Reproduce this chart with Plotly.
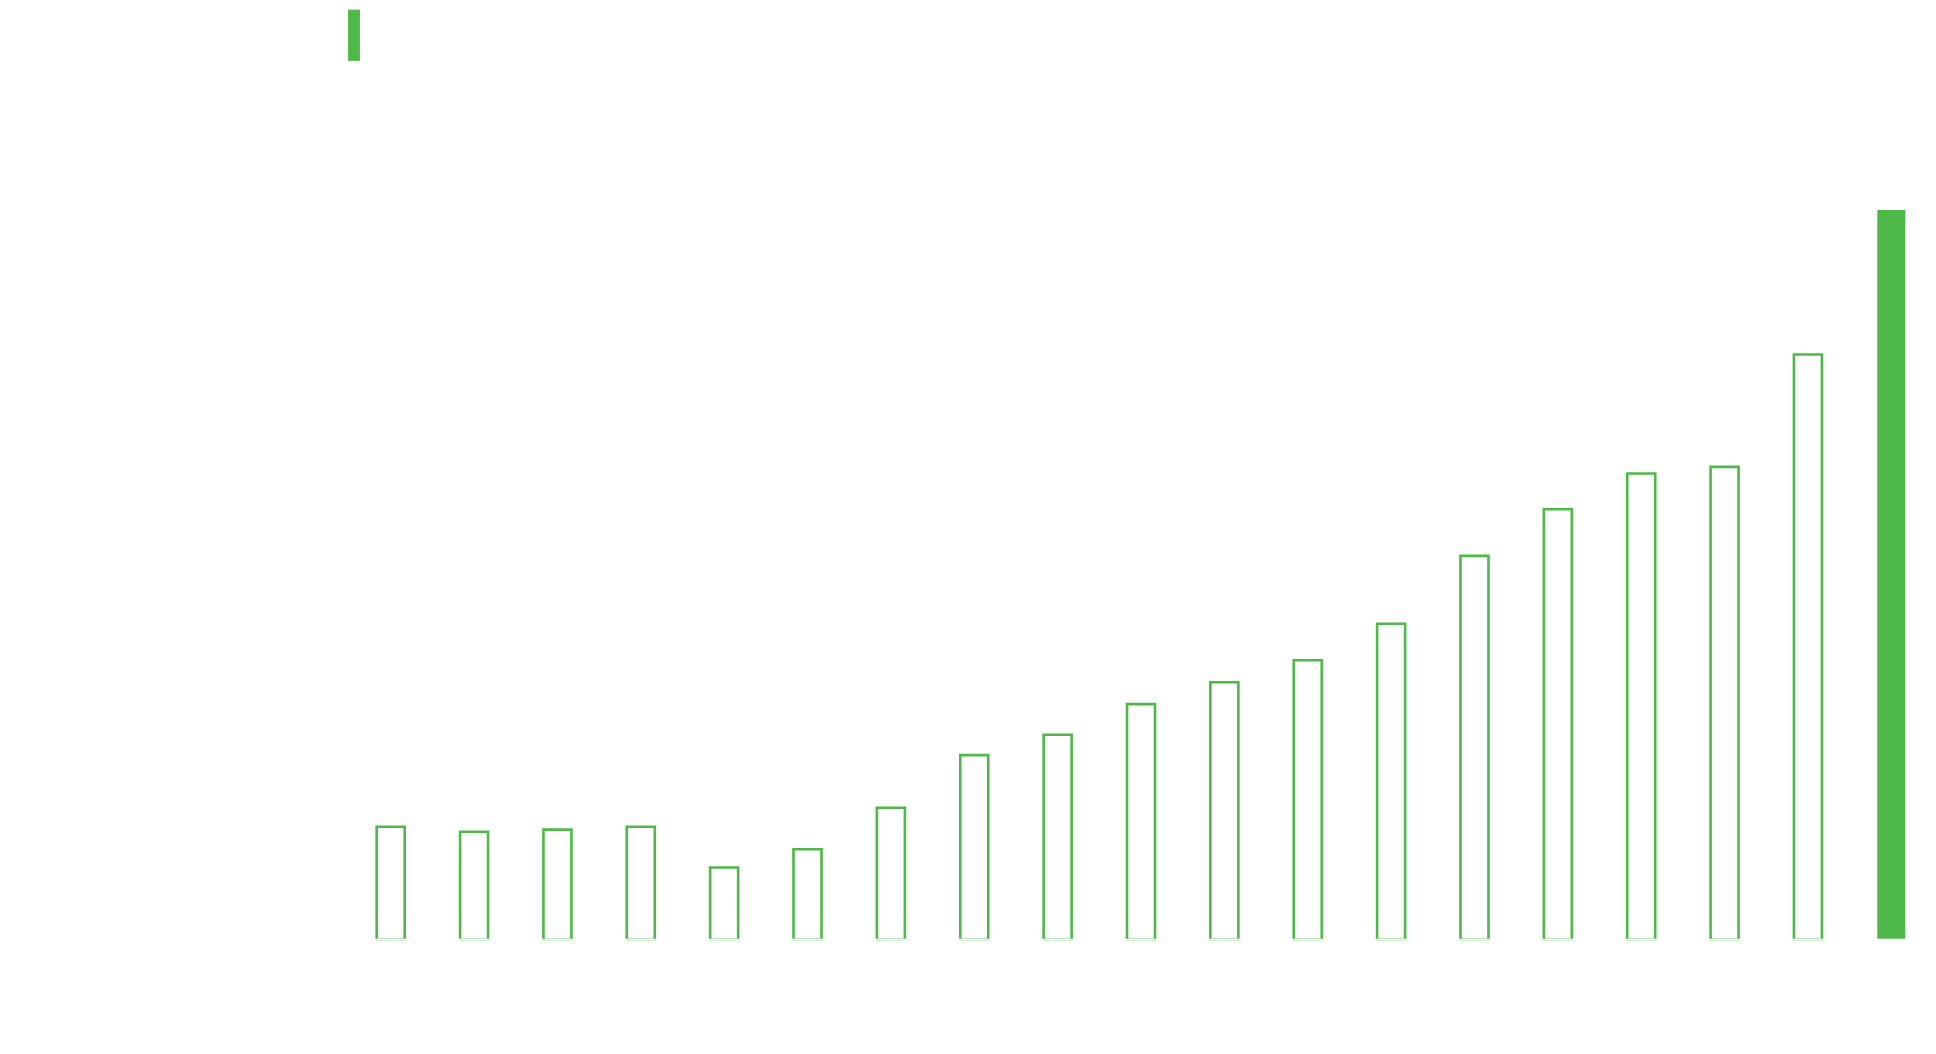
#!/usr/bin/env python3
# -*- coding: utf-8 -*-
import plotly.graph_objects as go

# data (arbitrary units, last bar = 100)
categories = ['2001', '2002', '2003', '2004', '2005', '2006', '2007', '2008', '2009', '2010',
              '2011', '2012', '2013', '2014', '2015', '2016', '2017', '2018', '2019']
values = [15.5, 14.8, 15.1, 15.5, 9.9, 12.4, 18.1, 25.3, 28.1, 32.3,
          35.3, 38.3, 43.3, 52.6, 59.0, 63.9, 64.8, 80.2, 100.0]

GREEN = '#4EB848'

n = len(values)
fill_colors = ['white'] * (n - 1) + [GREEN]
line_widths = [2.6] * (n - 1) + [0]

fig = go.Figure()
fig.add_trace(go.Bar(
    x=categories,
    y=values,
    width=0.336,
    marker=dict(color=fill_colors, line=dict(color=GREEN, width=line_widths)),
    showlegend=False,
    hoverinfo='x+y'
))

# page body has an 8px margin, so the figure is sized to fit inside the window
fig.update_layout(
    width=1928,
    height=1046,
    margin=dict(l=341, r=3, t=129, b=112, pad=0),
    paper_bgcolor='white',
    plot_bgcolor='white',
    showlegend=False,
    shapes=[
        # legend-like swatch top left
        dict(type='rect', xref='paper', yref='paper',
             x0=-0.0006, x1=0.0069, y0=1.0946, y1=1.1582,
             fillcolor=GREEN, line=dict(width=0)),
        # white baseline drawn over the bottoms of the bars
        dict(type='line', xref='paper', yref='y',
             x0=0, x1=1, y0=0, y1=0, layer='above',
             line=dict(color='white', width=2)),
    ]
)
fig.update_xaxes(
    type='category',
    range=[-0.5, n - 0.5],
    showgrid=False,
    zeroline=False,
    showticklabels=False,
    showline=False
)
fig.update_yaxes(
    range=[-0.3, 110],
    showgrid=False,
    zeroline=False,
    showticklabels=False
)

fig.write_html('out.html')
